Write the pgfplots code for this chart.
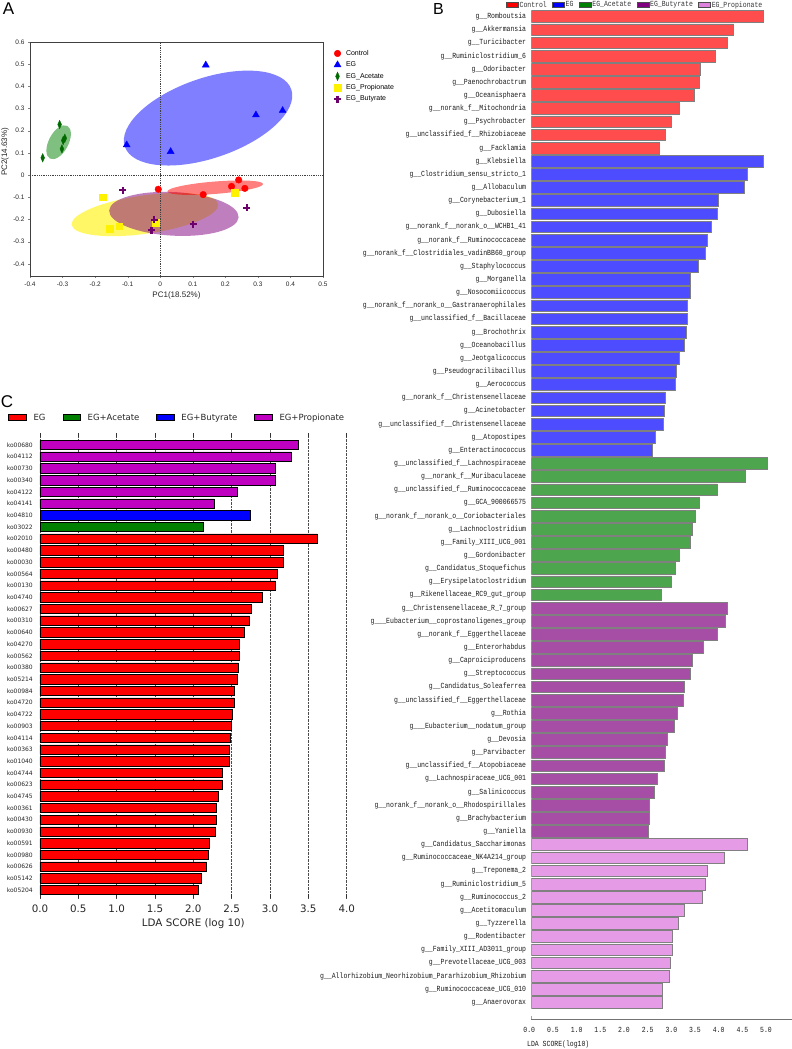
\documentclass[border=0pt]{standalone}
\usepackage{pgfplots}
\pgfplotsset{compat=1.18}
\usepackage{fontspec}
\setmainfont{Liberation Sans}
\newfontfamily\bfont[FakeStretch=0.83]{Liberation Mono}
\newfontfamily\cfont{DejaVu Sans}
\definecolor{bCtrl}{RGB}{255,77,77}
\definecolor{bEG}{RGB}{77,77,255}
\definecolor{bAce}{RGB}{77,166,77}
\definecolor{bBut}{RGB}{166,77,166}
\definecolor{bPro}{RGB}{230,155,230}
\definecolor{lPro}{RGB}{221,130,221}
\definecolor{lBut}{RGB}{128,0,128}
\definecolor{lAce}{RGB}{0,128,0}
\definecolor{cPro}{RGB}{192,0,192}
\definecolor{cGreen}{RGB}{0,128,0}
\definecolor{aPurple}{RGB}{110,0,110}
\definecolor{aGreen}{RGB}{0,105,0}
\definecolor{ePurple}{RGB}{128,0,128}
\begin{document}
\begin{tikzpicture}
\path[use as bounding box] (0pt,0pt) rectangle (792pt,1049pt);
\node[font=\fontsize{17}{17}\selectfont] at (8.5pt,1040.5pt) {A};
\node[font=\fontsize{16}{16}\selectfont] at (438.5pt,1039.8pt) {B};
\node[font=\fontsize{17}{17}\selectfont] at (7pt,647.5pt) {C};

% ---------------- Panel A ----------------
\begin{axis}[
  scale only axis, width=293pt, height=234pt,
  at={(30pt,773pt)}, anchor=south west,
  xmin=-0.4, xmax=0.5, ymin=-0.455, ymax=0.6,
  xtick={-0.4,-0.3,-0.2,-0.1,0,0.1,0.2,0.3,0.4,0.5},
  ytick={-0.4,-0.3,-0.2,-0.1,0,0.1,0.2,0.3,0.4,0.5,0.6},
  /pgf/number format/assume math mode=true,
  tick label style={font=\fontsize{6.5}{7}\selectfont, text=black!85},
  tick align=outside, xtick pos=bottom, ytick pos=left,
  major tick length=2pt,
  axis line style={black!75},
  xlabel={PC1(18.52\%)}, ylabel={PC2(14.63\%)},
  label style={font=\fontsize{8}{9}\selectfont, text=black!85},
  xlabel style={at={(axis description cs:0.5,-0.085)}, anchor=center},
  ylabel style={at={(axis description cs:-0.085,0.53)}, anchor=center},
  legend image code/.code={\draw[#1] plot coordinates {(0pt,0pt)};},
  legend style={at={(axis description cs:1.037,0.968)}, anchor=north west,
    draw=none, fill=none, inner sep=0pt, font=\fontsize{7}{8}\selectfont,
    nodes={inner sep=0.5pt}, row sep=3.6pt, legend cell align=left,
    /tikz/every odd column/.append style={column sep=4.5pt}},
]
\fill[blue, fill opacity=0.5, rotate around={19:(axis cs:0.147,0.257)}] (axis cs:0.147,0.257) ellipse [x radius=88pt, y radius=40pt];
\fill[cGreen, fill opacity=0.5, rotate around={62:(axis cs:-0.312,0.148)}] (axis cs:-0.312,0.148) ellipse [x radius=18.5pt, y radius=9.8pt];
\fill[yellow, fill opacity=0.6, rotate around={8:(axis cs:-0.047,-0.178)}] (axis cs:-0.047,-0.178) ellipse [x radius=74pt, y radius=19.2pt];
\fill[ePurple, fill opacity=0.5, rotate around={-3:(axis cs:0.042,-0.175)}] (axis cs:0.042,-0.175) ellipse [x radius=64.8pt, y radius=21.8pt];
\fill[red, fill opacity=0.5, rotate around={4.5:(axis cs:0.169,-0.057)}] (axis cs:0.169,-0.057) ellipse [x radius=48pt, y radius=6.2pt];
\draw[densely dotted, black!75, thick] (axis cs:0,-0.455) -- (axis cs:0,0.6);
\draw[densely dotted, black!75, thick] (axis cs:-0.4,0) -- (axis cs:0.5,0);

\addplot[only marks, forget plot, mark=*, red, mark size=3.3pt] coordinates {
(-0.006,-0.064) (0.132,-0.088) (0.219,-0.051) (0.241,-0.022) (0.260,-0.060)};
\addplot[only marks, forget plot, mark=triangle*, blue, mark size=4pt] coordinates {
(0.140,0.496) (0.294,0.271) (0.376,0.291) (-0.103,0.136) (0.032,0.106)};
\addplot[only marks, forget plot, mark=diamond*, aGreen, mark size=4.2pt, mark options={xscale=0.6}] coordinates {
(-0.361,0.078) (-0.309,0.228) (-0.302,0.118) (-0.298,0.156) (-0.293,0.166)};
\addplot[only marks, forget plot, mark=square*, yellow, mark size=3.3pt] coordinates {
(-0.176,-0.099) (-0.155,-0.241) (-0.126,-0.231) (-0.014,-0.216) (0.228,-0.079)};
\addplot[only marks, forget plot, mark=+, aPurple, mark size=3.5pt, mark options={line width=2.2pt}] coordinates {
(-0.115,-0.069) (-0.019,-0.201) (-0.027,-0.249) (0.101,-0.222) (0.266,-0.147)};

\addlegendimage{mark=*, red, mark size=3.3pt}
\addlegendentry{Control}
\addlegendimage{mark=triangle*, blue, mark size=4pt}
\addlegendentry{EG}
\addlegendimage{mark=diamond*, aGreen, mark size=4.2pt, mark options={xscale=0.6}}
\addlegendentry{EG\_Acetate}
\addlegendimage{mark=square*, yellow, mark size=3.3pt}
\addlegendentry{EG\_Propionate}
\addlegendimage{mark=+, aPurple, mark size=3.5pt, mark options={line width=2.2pt}}
\addlegendentry{EG\_Butyrate}
\end{axis}

% ---------------- Panel B ----------------
\begin{axis}[
  scale only axis, width=260.4pt, height=1008.9pt,
  at={(531.3pt,30pt)}, anchor=south west,
  xmin=0, xmax=5.5, ymin=-0.5, ymax=76.27, y dir=reverse,
  axis x line*=bottom, axis y line*=left,
  x axis line style={-, draw=black!55},
  y axis line style={draw=none},
  xtick={0,0.5,1,1.5,2,2.5,3,3.5,4,4.5,5},
  xtick style={draw=none}, ytick style={draw=none},
  ytick={0,...,75},
  /pgf/number format/assume math mode=true,
  xticklabel style={font=\bfont\fontsize{7.8}{8}\selectfont, text=black!90, inner sep=0pt, anchor=north, yshift=-8pt, xshift=-2pt,
    /pgf/number format/fixed, /pgf/number format/fixed zerofill, /pgf/number format/precision=1},
  yticklabel style={font=\bfont\fontsize{7.8}{8}\selectfont, text=black!90, inner sep=0pt, anchor=east, xshift=-5pt},
  yticklabels={
g\_\_Romboutsia,
g\_\_Akkermansia,
g\_\_Turicibacter,
g\_\_Ruminiclostridium\_6,
g\_\_Odoribacter,
g\_\_Paenochrobactrum,
g\_\_Oceanisphaera,
g\_\_norank\_f\_\_Mitochondria,
g\_\_Psychrobacter,
g\_\_unclassified\_f\_\_Rhizobiaceae,
g\_\_Facklamia,
g\_\_Klebsiella,
g\_\_Clostridium\_sensu\_stricto\_1,
g\_\_Allobaculum,
g\_\_Corynebacterium\_1,
g\_\_Dubosiella,
g\_\_norank\_f\_\_norank\_o\_\_WCHB1\_41,
g\_\_norank\_f\_\_Ruminococcaceae,
g\_\_norank\_f\_\_Clostridiales\_vadinBB60\_group,
g\_\_Staphylococcus,
g\_\_Morganella,
g\_\_Nosocomiicoccus,
g\_\_norank\_f\_\_norank\_o\_\_Gastranaerophilales,
g\_\_unclassified\_f\_\_Bacillaceae,
g\_\_Brochothrix,
g\_\_Oceanobacillus,
g\_\_Jeotgalicoccus,
g\_\_Pseudogracilibacillus,
g\_\_Aerococcus,
g\_\_norank\_f\_\_Christensenellaceae,
g\_\_Acinetobacter,
g\_\_unclassified\_f\_\_Christensenellaceae,
g\_\_Atopostipes,
g\_\_Enteractinococcus,
g\_\_unclassified\_f\_\_Lachnospiraceae,
g\_\_norank\_f\_\_Muribaculaceae,
g\_\_unclassified\_f\_\_Ruminococcaceae,
g\_\_GCA\_900066575,
g\_\_norank\_f\_\_norank\_o\_\_Coriobacteriales,
g\_\_Lachnoclostridium,
g\_\_Family\_XIII\_UCG\_001,
g\_\_Gordonibacter,
g\_\_Candidatus\_Stoquefichus,
g\_\_Erysipelatoclostridium,
g\_\_Rikenellaceae\_RC9\_gut\_group,
g\_\_Christensenellaceae\_R\_7\_group,
g\_\_\_Eubacterium\_\_coprostanoligenes\_group,
g\_\_norank\_f\_\_Eggerthellaceae,
g\_\_Enterorhabdus,
g\_\_Caproiciproducens,
g\_\_Streptococcus,
g\_\_Candidatus\_Soleaferrea,
g\_\_unclassified\_f\_\_Eggerthellaceae,
g\_\_Rothia,
g\_\_\_Eubacterium\_\_nodatum\_group,
g\_\_Devosia,
g\_\_Parvibacter,
g\_\_unclassified\_f\_\_Atopobiaceae,
g\_\_Lachnospiraceae\_UCG\_001,
g\_\_Salinicoccus,
g\_\_norank\_f\_\_norank\_o\_\_Rhodospirillales,
g\_\_Brachybacterium,
g\_\_Yaniella,
g\_\_Candidatus\_Saccharimonas,
g\_\_Ruminococcaceae\_NK4A214\_group,
g\_\_Treponema\_2,
g\_\_Ruminiclostridium\_5,
g\_\_Ruminococcus\_2,
g\_\_Acetitomaculum,
g\_\_Tyzzerella,
g\_\_Rodentibacter,
g\_\_Family\_XIII\_AD3011\_group,
g\_\_Prevotellaceae\_UCG\_003,
g\_\_Allorhizobium\_Neorhizobium\_Pararhizobium\_Rhizobium,
g\_\_Ruminococcaceae\_UCG\_010,
g\_\_Anaerovorax},
  xlabel={LDA SCORE(log10)},
  xlabel style={font=\bfont\fontsize{7.8}{8}\selectfont, text=black!90, at={(axis description cs:-0.0165,-0.0248)}, anchor=west, inner sep=0pt},
  legend image code/.code={\draw[#1] (0pt,-2.4pt) rectangle (12pt,2.4pt);},
  legend style={at={(axis description cs:-0.097,1.005)}, anchor=west, draw=none, fill=none,
    legend columns=5, inner sep=0pt, font=\bfont\fontsize{7.8}{8}\selectfont, text=black!80,
    nodes={inner sep=0pt},
    /tikz/every odd column/.append style={column sep=1pt},
    /tikz/every even column/.append style={column sep=5.5pt}},
]
\addlegendimage{fill=red, draw=black!70}
\addlegendentry{Control}
\addlegendimage{fill=blue, draw=black!70}
\addlegendentry{EG}
\addlegendimage{fill=lAce, draw=black!70}
\addlegendentry{EG\_Acetate}
\addlegendimage{fill=lBut, draw=black!70}
\addlegendentry{EG\_Butyrate}
\addlegendimage{fill=lPro, draw=black!70}
\addlegendentry{EG\_Propionate}

\addplot[xbar, bar shift=0pt, bar width=0.89, fill=bCtrl, draw=black!50, line width=0.6pt, forget plot] coordinates {
(4.89,0) (4.27,1) (4.15,2) (3.89,3) (3.56,4) (3.55,5) (3.44,6) (3.13,7) (2.95,8) (2.82,9) (2.70,10)};
\addplot[xbar, bar shift=0pt, bar width=0.89, fill=bEG, draw=black!50, line width=0.6pt, forget plot] coordinates {
(4.89,11) (4.57,12) (4.49,13) (3.94,14) (3.92,15) (3.80,16) (3.71,17) (3.68,18) (3.52,19) (3.36,20) (3.35,21) (3.30,22) (3.30,23) (3.28,24) (3.23,25) (3.13,26) (3.07,27) (3.04,28) (2.82,29) (2.81,30) (2.79,31) (2.62,32) (2.56,33)};
\addplot[xbar, bar shift=0pt, bar width=0.89, fill=bAce, draw=black!50, line width=0.6pt, forget plot] coordinates {
(4.99,34) (4.53,35) (3.92,36) (3.54,37) (3.46,38) (3.41,39) (3.35,40) (3.13,41) (3.05,42) (2.96,43) (2.74,44)};
\addplot[xbar, bar shift=0pt, bar width=0.89, fill=bBut, draw=black!50, line width=0.6pt, forget plot] coordinates {
(4.13,45) (4.10,46) (3.92,47) (3.64,48) (3.39,49) (3.36,50) (3.23,51) (3.20,52) (3.09,53) (3.01,54) (2.87,55) (2.83,56) (2.80,57) (2.67,58) (2.60,59) (2.50,60) (2.49,61) (2.48,62)};
\addplot[xbar, bar shift=0pt, bar width=0.89, fill=bPro, draw=black!50, line width=0.6pt, forget plot] coordinates {
(4.57,63) (4.08,64) (3.72,65) (3.68,66) (3.62,67) (3.23,68) (3.10,69) (2.98,70) (2.98,71) (2.93,72) (2.92,73) (2.77,74) (2.77,75)};
\draw[black!55] (axis cs:0,76.27) -- ++(0pt,3pt);
\draw[black!55] (axis cs:5.5,76.27) -- ++(0pt,3pt);
\end{axis}

% ---------------- Panel C ----------------
\begin{axis}[
  scale only axis, width=306.7pt, height=465pt,
  at={(40pt,151pt)}, anchor=south west,
  xmin=0, xmax=4, ymin=-1.02, ymax=38.68, y dir=reverse,
  axis line style={draw=none},
  xtick={0,0.5,1,1.5,2,2.5,3,3.5,4},
  xtick pos=both, tick align=inside, major tick length=4pt,
  xtick style={black!80, thin},
  ytick={0,...,38}, ytick style={draw=none},
  xmajorgrids, grid style={densely dotted, black!70, thin},
  /pgf/number format/assume math mode=true,
  xticklabel style={font=\cfont\fontsize{10.3}{11}\selectfont, text=black!85, inner sep=0pt, anchor=north, yshift=-6.5pt,
    /pgf/number format/fixed, /pgf/number format/fixed zerofill, /pgf/number format/precision=1},
  yticklabel style={font=\cfont\fontsize{6}{7}\selectfont, text=black!85, inner sep=0pt, anchor=east, xshift=-7pt},
  yticklabels={ko00680,ko04112,ko00730,ko00340,ko04122,ko04141,ko04810,ko03022,ko02010,ko00480,ko00030,ko00564,ko00130,ko04740,ko00627,ko00310,ko00640,ko04270,ko00562,ko00380,ko05214,ko00984,ko04720,ko04722,ko00903,ko04114,ko00363,ko01040,ko04744,ko00623,ko04745,ko00361,ko00430,ko00930,ko00591,ko00980,ko00626,ko05142,ko05204},
  xlabel={LDA SCORE (log 10)},
  xlabel style={font=\cfont\fontsize{10.3}{11}\selectfont, text=black!85, at={(axis description cs:0.5,-0.0555)}, anchor=center},
  legend image code/.code={\draw[#1] (0pt,-3pt) rectangle (17.7pt,3pt);},
  legend style={at={(axis description cs:-0.1034,1.033)}, anchor=west, draw=none, fill=none,
    legend columns=4, inner sep=0pt, font=\cfont\fontsize{8.5}{9}\selectfont, text=black!85,
    nodes={inner sep=0pt},
    /tikz/every odd column/.append style={column sep=7pt},
    /tikz/every even column/.append style={column sep=17pt}},
]
\addlegendimage{fill=red, draw=black}
\addlegendentry{EG}
\addlegendimage{fill=cGreen, draw=black}
\addlegendentry{EG+Acetate}
\addlegendimage{fill=blue, draw=black}
\addlegendentry{EG+Butyrate}
\addlegendimage{fill=cPro, draw=black}
\addlegendentry{EG+Propionate}

\addplot[xbar, bar shift=0pt, bar width=0.8, fill=cPro, draw=black, line width=0.5pt, forget plot] coordinates {
(3.37,0) (3.28,1) (3.07,2) (3.07,3) (2.57,4) (2.27,5)};
\addplot[xbar, bar shift=0pt, bar width=0.8, fill=blue, draw=black, line width=0.5pt, forget plot] coordinates {
(2.74,6)};
\addplot[xbar, bar shift=0pt, bar width=0.8, fill=cGreen, draw=black, line width=0.5pt, forget plot] coordinates {
(2.13,7)};
\addplot[xbar, bar shift=0pt, bar width=0.8, fill=red, draw=black, line width=0.5pt, forget plot] coordinates {
(3.61,8) (3.17,9) (3.17,10) (3.09,11) (3.07,12) (2.90,13) (2.76,14) (2.73,15) (2.66,16) (2.60,17) (2.60,18) (2.58,19) (2.57,20) (2.53,21) (2.53,22) (2.51,23) (2.49,24) (2.48,25) (2.47,26) (2.47,27) (2.38,28) (2.38,29) (2.32,30) (2.30,31) (2.30,32) (2.29,33) (2.21,34) (2.19,35) (2.17,36) (2.10,37) (2.07,38)};
\end{axis}
\end{tikzpicture}
\end{document}
